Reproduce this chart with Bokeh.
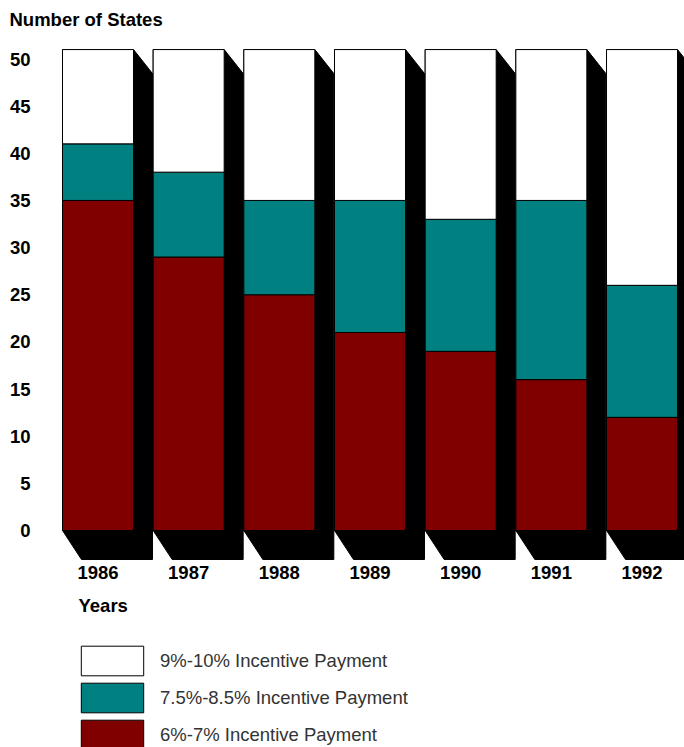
from bokeh.plotting import figure
from bokeh.layouts import column
from bokeh.models import Range1d, FixedTicker, Legend, LegendItem, Label, ColumnDataSource
from bokeh.embed import file_html
from bokeh.resources import INLINE

# ---- data ----
years = ["1986", "1987", "1988", "1989", "1990", "1991", "1992"]
pay_6_7 = [35, 29, 25, 21, 19, 16, 12]
pay_75_85 = [6, 9, 10, 14, 14, 19, 14]
pay_9_10 = [10, 13, 16, 16, 18, 16, 25]
y_ticks = [0, 5, 10, 15, 20, 25, 30, 35, 40, 45, 50]
series_labels = ["6%-7% Incentive Payment", "7.5%-8.5% Incentive Payment", "9%-10% Incentive Payment"]
series_colors = ["#800000", "#008080", "#ffffff"]

# ---- layout helpers (picture pixel -> data) ----
PX_X, X0 = 90.67, 97.5
PX_Y, Y0 = 9.43, 530.0
def xd(ix): return (ix - X0) / PX_X
def yd(iy): return (Y0 - iy) / PX_Y

FONT = "Liberation Sans"
FS = "18.5px"
W = 684
H1 = 590
H2 = 157
FL = 40  # frame left
BAR_W = 71 / PX_X
SH_DX = 19 / PX_X
SH_DYT = 24 / PX_Y
SH_DYB = 29 / PX_Y

p = figure(width=W, height=H1, x_range=Range1d(xd(FL), xd(W)),
           y_range=Range1d(yd(562), yd(30)), output_backend="svg",
           toolbar_location=None, min_border_left=FL, min_border_right=0,
           min_border_top=30, min_border_bottom=H1 - 562)
p.outline_line_color = None
p.grid.visible = False
p.background_fill_color = "white"

xs_idx = list(range(len(years)))
totals = [a + b + c for a, b, c in zip(pay_6_7, pay_75_85, pay_9_10)]

# shadows
sh_xs, sh_ys = [], []
for i, t in zip(xs_idx, totals):
    x0, x1 = i - BAR_W / 2, i + BAR_W / 2
    sh_xs.append([x0, x1, x1 + SH_DX, x1 + SH_DX, x0 + SH_DX, x0])
    sh_ys.append([t, t, t - SH_DYT, -SH_DYB, -SH_DYB, 0])
p.patches(sh_xs, sh_ys, fill_color="black", line_color="black", line_width=1)

src = ColumnDataSource(dict(x=xs_idx, a=pay_6_7, b=pay_75_85, c=pay_9_10))
rs = p.vbar_stack(["a", "b", "c"], x="x", width=BAR_W, fill_color=series_colors,
                  line_color="black", line_width=1, source=src)

# axes
for ax in (p.xaxis, p.yaxis):
    ax.axis_line_color = None
    ax.major_tick_line_color = None
    ax.minor_tick_line_color = None
    ax.major_tick_out = 0
    ax.major_tick_in = 0
    ax.minor_tick_out = 0
    ax.major_label_text_font = FONT
    ax.major_label_text_font_style = "bold"
    ax.major_label_text_font_size = FS
    ax.major_label_text_color = "black"

p.yaxis.ticker = FixedTicker(ticks=y_ticks)
p.yaxis.major_label_standoff = 10
p.xaxis.ticker = FixedTicker(ticks=xs_idx)
p.xaxis.major_label_overrides = {i: y for i, y in zip(xs_idx, years)}
p.xaxis.major_label_standoff = 3

p.title.text = "Number of States"
p.title.align = "left"
p.title.offset = -31
p.title.standoff = 2
p.title.text_font = FONT
p.title.text_font_style = "bold"
p.title.text_font_size = FS
p.title.text_color = "black"

# ---- lower panel: axis title and legend (frame aligned with the chart's) ----
Y_OFF = 1000  # this panel's view lies far above the data, so only the legend shows it
q = figure(width=W, height=H2, x_range=Range1d(FL, W), y_range=Range1d(Y_OFF, Y_OFF + H2),
           output_backend="svg", toolbar_location=None, x_axis_type=None,
           y_axis_type=None, min_border_left=FL, min_border_right=0,
           min_border_top=0, min_border_bottom=0)
q.outline_line_color = None
q.grid.visible = False

q.add_layout(Label(x=78, y=Y_OFF + H2 - 15, text="Years", text_font=FONT,
                   text_font_style="bold", text_font_size=FS, text_color="black",
                   text_baseline="middle", text_align="left"))

lr = q.vbar_stack(["a", "b", "c"], x="x", width=BAR_W, fill_color=series_colors,
                  line_color="black", line_width=1, source=src)
items = [LegendItem(label=series_labels[k], renderers=[lr[k]]) for k in (2, 1, 0)]
legend = Legend(items=items, location=(73 - FL, -6), glyph_width=78, glyph_height=37,
                spacing=0, padding=0, margin=0, label_standoff=9,
                label_text_font=FONT, label_text_font_size=FS,
                label_text_color="#333333", border_line_color=None,
                background_fill_alpha=0)
q.add_layout(legend)

layout = column(p, q, spacing=0)
open("out.html", "w").write(file_html(layout, INLINE))
